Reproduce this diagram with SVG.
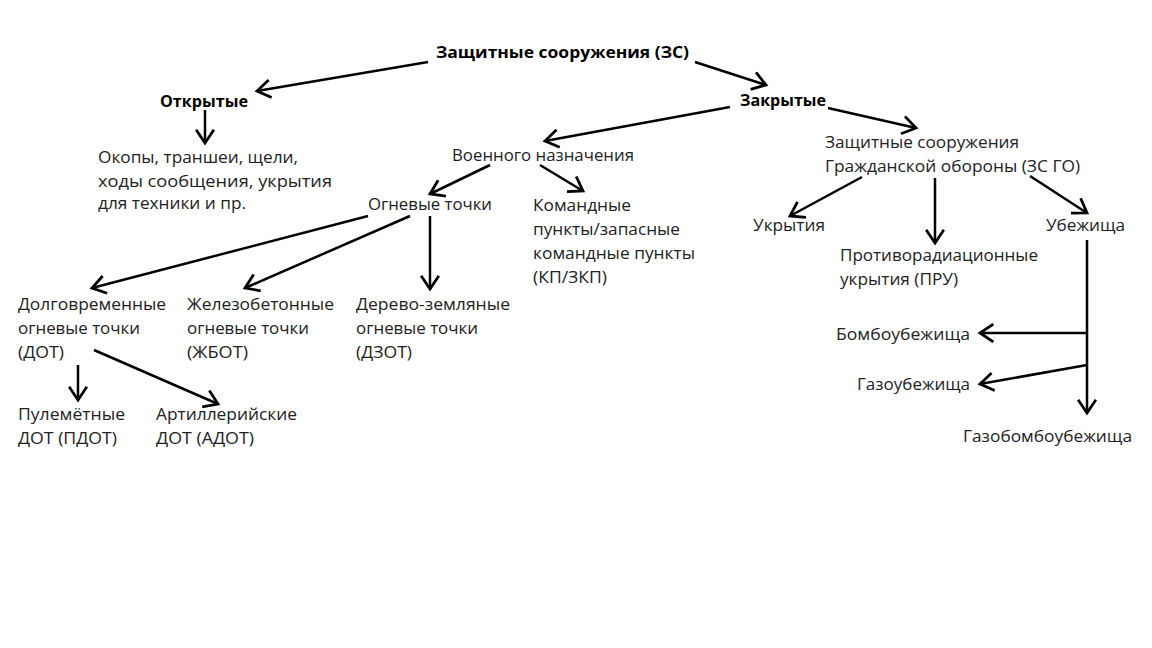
<svg xmlns="http://www.w3.org/2000/svg" width="1152" height="648" viewBox="0 0 1152 648">
<style>
text{font-family:"Open Sans","Noto Sans","Liberation Sans",sans-serif;font-size:16px;fill:#222}
.b{font-weight:bold;fill:#000}
.c line{stroke:#000;stroke-width:2.5;marker-end:url(#a)}
</style>
<defs>
<marker id="a" markerUnits="userSpaceOnUse" markerWidth="20" markerHeight="20" viewBox="-14 -9 16 18" refX="0" refY="0" orient="auto">
<path d="M-12,-8 L0,0 L-12,8" fill="none" stroke="#000" stroke-width="2.5"/>
</marker>
</defs>
<rect width="1152" height="648" fill="#fff"/>
<g id="n-root"><text class="b" x="436" y="58" textLength="253" lengthAdjust="spacingAndGlyphs">Защитные сооружения (ЗС)</text></g>
<g id="n-open"><text class="b" x="160" y="107" textLength="88" lengthAdjust="spacingAndGlyphs">Открытые</text></g>
<g id="n-closed"><text class="b" x="740" y="106" textLength="86" lengthAdjust="spacingAndGlyphs">Закрытые</text></g>
<g id="n-okopy">
<text x="98" y="163" textLength="200" lengthAdjust="spacingAndGlyphs">Окопы, траншеи, щели,</text>
<text x="98" y="187" textLength="234" lengthAdjust="spacingAndGlyphs">ходы сообщения, укрытия</text>
<text x="98" y="209" textLength="148" lengthAdjust="spacingAndGlyphs">для техники и пр.</text>
</g>
<g id="n-mil"><text x="452" y="161" textLength="182" lengthAdjust="spacingAndGlyphs">Военного назначения</text></g>
<g id="n-fire"><text x="368" y="210" textLength="124" lengthAdjust="spacingAndGlyphs">Огневые точки</text></g>
<g id="n-kp">
<text x="533" y="211" textLength="98" lengthAdjust="spacingAndGlyphs">Командные</text>
<text x="533" y="235" textLength="147" lengthAdjust="spacingAndGlyphs">пункты/запасные</text>
<text x="533" y="259" textLength="162" lengthAdjust="spacingAndGlyphs">командные пункты</text>
<text x="533" y="283" textLength="74" lengthAdjust="spacingAndGlyphs">(КП/ЗКП)</text>
</g>
<g id="n-zsgo">
<text x="825" y="148" textLength="194" lengthAdjust="spacingAndGlyphs">Защитные сооружения</text>
<text x="825" y="172" textLength="255" lengthAdjust="spacingAndGlyphs">Гражданской обороны (ЗС ГО)</text>
</g>
<g id="n-ukr"><text x="753" y="231" textLength="72" lengthAdjust="spacingAndGlyphs">Укрытия</text></g>
<g id="n-ub"><text x="1046" y="231" textLength="79" lengthAdjust="spacingAndGlyphs">Убежища</text></g>
<g id="n-pru">
<text x="840" y="261" textLength="198" lengthAdjust="spacingAndGlyphs">Противорадиационные</text>
<text x="840" y="285" textLength="118" lengthAdjust="spacingAndGlyphs">укрытия (ПРУ)</text>
</g>
<g id="n-dot">
<text x="18" y="310" textLength="148" lengthAdjust="spacingAndGlyphs">Долговременные</text>
<text x="18" y="334" textLength="122" lengthAdjust="spacingAndGlyphs">огневые точки</text>
<text x="18" y="358" textLength="46" lengthAdjust="spacingAndGlyphs">(ДОТ)</text>
</g>
<g id="n-zhbot">
<text x="187" y="310" textLength="147" lengthAdjust="spacingAndGlyphs">Железобетонные</text>
<text x="187" y="334" textLength="122" lengthAdjust="spacingAndGlyphs">огневые точки</text>
<text x="187" y="358" textLength="61" lengthAdjust="spacingAndGlyphs">(ЖБОТ)</text>
</g>
<g id="n-dzot">
<text x="356" y="310" textLength="154" lengthAdjust="spacingAndGlyphs">Дерево-земляные</text>
<text x="356" y="334" textLength="122" lengthAdjust="spacingAndGlyphs">огневые точки</text>
<text x="356" y="358" textLength="56" lengthAdjust="spacingAndGlyphs">(ДЗОТ)</text>
</g>
<g id="n-pdot">
<text x="18" y="420" textLength="107" lengthAdjust="spacingAndGlyphs">Пулемётные</text>
<text x="18" y="444" textLength="99" lengthAdjust="spacingAndGlyphs">ДОТ (ПДОТ)</text>
</g>
<g id="n-adot">
<text x="156" y="420" textLength="141" lengthAdjust="spacingAndGlyphs">Артиллерийские</text>
<text x="156" y="444" textLength="98" lengthAdjust="spacingAndGlyphs">ДОТ (АДОТ)</text>
</g>
<g id="n-bomb"><text x="836" y="340" textLength="134" lengthAdjust="spacingAndGlyphs">Бомбоубежища</text></g>
<g id="n-gaz"><text x="857" y="390" textLength="113" lengthAdjust="spacingAndGlyphs">Газоубежища</text></g>
<g id="n-gazbomb"><text x="963" y="442" textLength="169" lengthAdjust="spacingAndGlyphs">Газобомбоубежища</text></g>
<g id="connectors" class="c">
<line x1="428" y1="62" x2="257" y2="91"/>
<line x1="695" y1="62" x2="766" y2="85"/>
<line x1="205" y1="110" x2="205" y2="143"/>
<line x1="730" y1="107" x2="545" y2="141"/>
<line x1="828" y1="108" x2="916" y2="128"/>
<line x1="490" y1="165" x2="430" y2="194"/>
<line x1="540" y1="165" x2="583" y2="191"/>
<line x1="368" y1="216" x2="92" y2="288"/>
<line x1="410" y1="216" x2="245" y2="288"/>
<line x1="430" y1="216" x2="430" y2="289"/>
<line x1="78" y1="365" x2="78" y2="400"/>
<line x1="94" y1="350" x2="218" y2="404"/>
<line x1="862" y1="177" x2="790" y2="216"/>
<line x1="935" y1="178" x2="935" y2="243"/>
<line x1="1030" y1="176" x2="1087" y2="213"/>
<line x1="1087" y1="240" x2="1087" y2="413"/>
<line x1="1087" y1="333" x2="980" y2="333"/>
<line x1="1087" y1="365" x2="980" y2="384"/>
</g>
</svg>
